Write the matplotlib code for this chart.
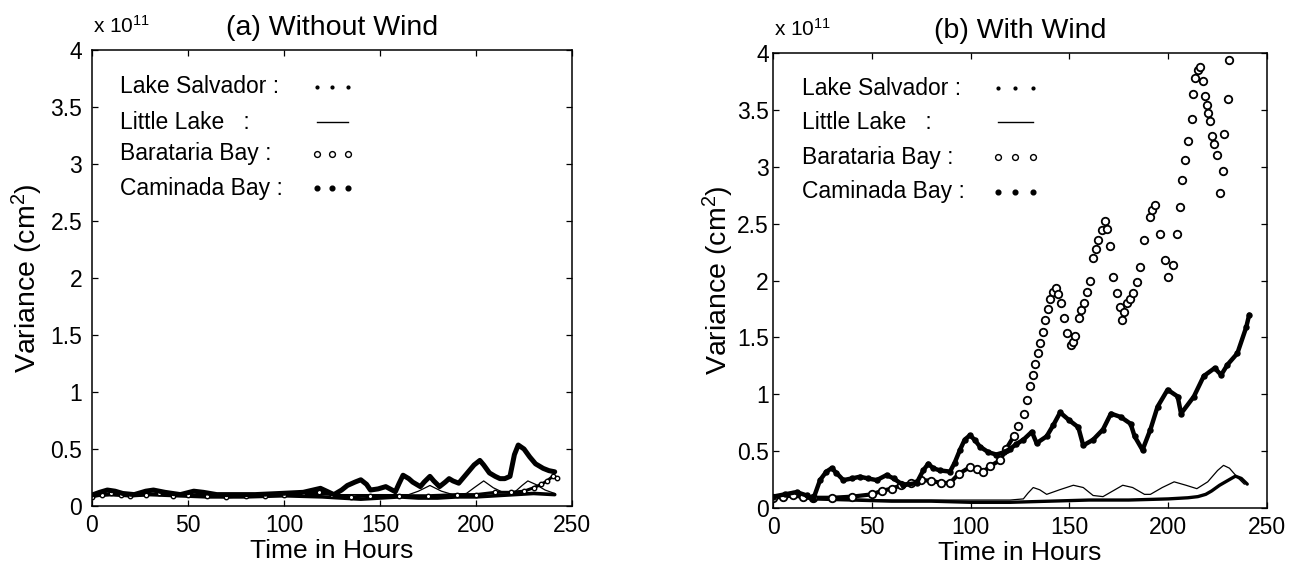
import matplotlib
matplotlib.use("Agg")
import matplotlib.pyplot as plt
from matplotlib.ticker import FuncFormatter
import numpy as np

plt.rcParams['font.family'] = ['Liberation Sans', 'DejaVu Sans']
plt.rcParams['mathtext.fontset'] = 'custom'
plt.rcParams['mathtext.rm'] = 'Liberation Sans'
plt.rcParams['mathtext.it'] = 'Liberation Sans'

# ---------------- data (units of 1e11 cm^2) ----------------
# (a) Without wind
t_ls_a = [0, 10, 20, 30, 45, 60, 80, 100, 120, 130, 140, 150, 160, 170, 180, 190, 200, 210, 220, 230, 241]
v_ls_a = [0.09, 0.10, 0.09, 0.10, 0.09, 0.08, 0.08, 0.09, 0.08, 0.07, 0.06, 0.07, 0.08, 0.07, 0.07, 0.08, 0.08, 0.09, 0.10, 0.11, 0.10]

t_ll_a = [0, 15, 30, 50, 75, 100, 125, 150, 165, 170, 176, 182, 188, 195, 199, 204, 209, 214, 220, 224, 227, 231, 236, 241]
v_ll_a = [0.10, 0.09, 0.10, 0.09, 0.10, 0.10, 0.10, 0.10, 0.10, 0.13, 0.18, 0.13, 0.10, 0.11, 0.16, 0.22, 0.16, 0.12, 0.12, 0.18, 0.22, 0.19, 0.14, 0.11]

t_bb_a = [0, 5, 10, 15, 20, 28, 35, 42, 50, 60, 70, 80, 90, 100, 110, 118, 125, 135, 145, 160, 175, 190, 200, 210, 218, 225, 230, 234, 237, 240, 242]
v_bb_a = [0.08, 0.10, 0.11, 0.10, 0.09, 0.10, 0.11, 0.09, 0.10, 0.09, 0.08, 0.09, 0.09, 0.10, 0.11, 0.12, 0.10, 0.08, 0.09, 0.09, 0.09, 0.10, 0.10, 0.12, 0.12, 0.13, 0.16, 0.19, 0.22, 0.26, 0.25]

t_cb_a = [0, 4, 8, 12, 16, 22, 28, 32, 38, 46, 53, 58, 65, 72, 85, 98, 110, 119, 126, 130, 133, 137, 140, 143, 145,
          149, 153, 158, 160, 162, 165, 167, 171, 173, 176, 178, 181, 184, 186, 188, 191, 194, 196, 199, 202,
          204, 207, 210, 212.5, 215, 217.7, 220, 222, 225, 228, 231, 235, 238, 241]
v_cb_a = [0.096, 0.12, 0.14, 0.13, 0.11, 0.10, 0.13, 0.14, 0.12, 0.10, 0.13, 0.12, 0.10, 0.10, 0.10, 0.11, 0.12, 0.155, 0.10, 0.14,
          0.18, 0.21, 0.23, 0.19, 0.14, 0.15, 0.17, 0.125, 0.20, 0.27, 0.24, 0.21, 0.17, 0.21, 0.26, 0.22, 0.17, 0.21, 0.24, 0.22,
          0.20, 0.26, 0.30, 0.36, 0.40, 0.36, 0.29, 0.26, 0.24, 0.24, 0.26, 0.45, 0.535, 0.50, 0.43, 0.37, 0.33, 0.31, 0.30]

# (b) With wind
t_ls_b = [0, 10, 20, 40, 60, 80, 100, 120, 140, 160, 180, 200, 210, 215, 219, 222, 226, 230, 234, 237, 240]
v_ls_b = [0.10, 0.11, 0.08, 0.07, 0.06, 0.06, 0.05, 0.05, 0.06, 0.07, 0.07, 0.08, 0.09, 0.10, 0.12, 0.15, 0.20, 0.24, 0.28, 0.26, 0.21]

t_ll_b = [0, 10, 20, 40, 60, 80, 100, 120, 126.7, 129, 131.7, 135, 138.5, 145, 152, 157, 162, 167, 172, 177,
          182, 188, 191, 197, 203, 209, 214.5, 220, 225, 228, 231, 235, 238.5]
v_ll_b = [0.10, 0.11, 0.08, 0.08, 0.07, 0.07, 0.07, 0.07, 0.08, 0.13, 0.18, 0.16, 0.12, 0.16, 0.20, 0.18, 0.11, 0.10, 0.15, 0.20,
          0.18, 0.12, 0.12, 0.18, 0.23, 0.20, 0.17, 0.23, 0.33, 0.375, 0.35, 0.27, 0.21]

t_bb_b = [0, 5, 10, 15, 20, 30, 40, 50, 55, 60, 65, 70, 75, 80, 85, 89.6, 94, 99.7, 103, 106.5,
          110, 115, 118, 121.8, 124, 126.8, 128.5, 130.2, 131.5, 132.7, 134, 135.3, 136.5, 137.8, 139,
          140.4, 141.7, 143, 144.3, 145.5, 147.2, 148.9, 150.6, 151.8, 153, 154.7, 156, 157.2, 158.9, 160.4,
          162.1, 163.3, 164.6, 166.3, 168, 169.2, 170.5, 172.2, 173.9, 175.6, 176.5, 177.8, 179, 180.7, 182.4,
          184.3, 185.7, 188, 190.8, 192, 193.3, 195.8, 198.4, 200, 202.6, 204.3, 206, 206.8, 208.5, 210.2,
          211.9, 212.7, 213.6, 215, 216, 217.5, 218.6, 219.5, 220.3, 221.2, 222, 223.2, 224.5, 226.4, 227.5,
          228.4, 230.1, 231]
v_bb_b = [0.09, 0.10, 0.11, 0.10, 0.09, 0.09, 0.10, 0.12, 0.15, 0.17, 0.20, 0.22, 0.245, 0.24, 0.22, 0.22, 0.30, 0.36, 0.34, 0.32,
          0.37, 0.42, 0.52, 0.63, 0.72, 0.83, 0.95, 1.07, 1.17, 1.27, 1.36, 1.45, 1.55, 1.65, 1.75,
          1.84, 1.90, 1.93, 1.88, 1.80, 1.67, 1.54, 1.43, 1.46, 1.51, 1.67, 1.74, 1.80, 1.90, 2.00,
          2.20, 2.28, 2.36, 2.44, 2.52, 2.45, 2.30, 2.03, 1.89, 1.77, 1.65, 1.72, 1.80, 1.84, 1.89,
          1.99, 2.12, 2.36, 2.56, 2.62, 2.66, 2.41, 2.18, 2.03, 2.14, 2.41, 2.65, 2.88, 3.06, 3.23,
          3.42, 3.64, 3.78, 3.85, 3.88, 3.75, 3.62, 3.54, 3.47, 3.40, 3.27, 3.20, 3.10, 2.77, 2.96,
          3.29, 3.60, 3.94]

t_cb_b = [0, 6, 12, 17, 20.4, 23.8, 27, 29.7, 32, 35.6, 40, 44, 48, 52.5, 57.5, 61, 66, 72.7, 76, 78.6,
          81, 84.5, 89.6, 92, 94.6, 97, 99.7, 102, 104.7, 109, 113, 117, 120, 123, 126.7, 131, 133.4, 138.5, 141.9, 145.3,
          150, 154.5, 157, 162, 167, 171, 176, 181, 183, 187, 191, 194.6, 199.7, 204.8, 206.5, 213, 218, 223.5, 226.8, 230,
          235, 239.5, 241]
v_cb_b = [0.10, 0.12, 0.14, 0.11, 0.08, 0.245, 0.32, 0.35, 0.31, 0.245, 0.26, 0.275, 0.26, 0.245, 0.29, 0.26, 0.20, 0.22, 0.33, 0.39,
          0.35, 0.33, 0.32, 0.40, 0.51, 0.60, 0.64, 0.60, 0.54, 0.49, 0.47, 0.49, 0.52, 0.56, 0.60, 0.67, 0.57, 0.63, 0.73, 0.84,
          0.77, 0.71, 0.55, 0.60, 0.69, 0.83, 0.80, 0.74, 0.63, 0.51, 0.69, 0.89, 1.04, 0.98, 0.83, 0.98, 1.16, 1.23, 1.17, 1.26,
          1.36, 1.59, 1.70]

legend_labels = ["Lake Salvador :", "Little Lake   :", "Barataria Bay :", "Caminada Bay :"]
titles = ["(a) Without Wind", "(b) With Wind"]
x_ticks = [0, 50, 100, 150, 200, 250]
y_ticks = [0, 0.5, 1, 1.5, 2, 2.5, 3, 3.5, 4]

# ---------------- figure ----------------
W, H = 1301, 576
fig = plt.figure(figsize=(W / 100, H / 100), dpi=100)
ax1 = fig.add_axes([92 / W, 70 / H, 480 / W, 456 / H])
ax2 = fig.add_axes([773 / W, 68 / H, 494 / W, 455 / H])

K = 'black'

# panel (a)
ax1.plot(t_ls_a, v_ls_a, color=K, lw=2.6, solid_capstyle='round')
ax1.plot(t_ll_a, v_ll_a, color=K, lw=0.9)
ax1.plot(t_bb_a, v_bb_a, color=K, lw=2.2)
ax1.plot(t_bb_a, v_bb_a, 'o', ms=3.2, mfc='white', mec=K, mew=1.0)
ax1.plot(t_cb_a, v_cb_a, color=K, lw=3.6, solid_capstyle='round', solid_joinstyle='round')

# panel (b)
tb = np.array(t_bb_b)
vb = np.array(v_bb_b)
low = tb <= 121.8
ax2.plot(t_ls_b, v_ls_b, color=K, lw=2.4, solid_capstyle='round')
ax2.plot(t_ll_b, v_ll_b, color=K, lw=0.9)
ax2.plot(tb[low], vb[low], color=K, lw=3.0)
ax2.plot(tb, vb, 'o', ms=5.4, mfc='white', mec=K, mew=1.3)
ax2.plot(t_cb_b, v_cb_b, color=K, lw=3.2, solid_capstyle='round', solid_joinstyle='round')
ax2.plot(t_cb_b, v_cb_b, 'o', ms=3.6, color=K)

fmt = FuncFormatter(lambda v, p: '%g' % v)
for ax, title, ypad, sym_x, leg_y in [
        (ax1, titles[0], 7, (0.469, 0.533), (0.919, 0.842, 0.772, 0.697)),
        (ax2, titles[1], 3, (0.455, 0.526), (0.923, 0.848, 0.771, 0.695))]:
    ax.set_xlim(0, 250)
    ax.set_ylim(0, 4)
    ax.set_xticks(x_ticks)
    ax.set_yticks(y_ticks)
    ax.xaxis.set_major_formatter(fmt)
    ax.yaxis.set_major_formatter(fmt)
    ax.tick_params(direction='in', length=4, width=0.9, top=True, right=True, labelsize=16.5)
    ax.tick_params(axis='y', pad=ypad)
    ax.tick_params(axis='x', pad=6)
    for s in ax.spines.values():
        s.set_linewidth(1.1)
    ax.set_title(title, fontsize=20.5, pad=11)
    ax.set_xlabel('Time in Hours', fontsize=19, labelpad=1)
    ax.set_ylabel(r'Variance (cm$^2$)', fontsize=20.5, labelpad=4 if ax is ax1 else 1)
    ax.text(0.003, 1.037, r'x 10$^{11}$', transform=ax.transAxes, fontsize=15, ha='left', va='baseline')

    # legend block
    for lab, yy in zip(legend_labels, leg_y):
        ax.text(0.058, yy, lab, transform=ax.transAxes, fontsize=16.5, ha='left', va='center')
    xs = [sym_x[0], (sym_x[0] + sym_x[1]) / 2, sym_x[1]]
    ax.plot(xs, [leg_y[0]] * 3, 'o', ms=2.0, color=K, transform=ax.transAxes, clip_on=False)
    ax.plot([sym_x[0], sym_x[1]], [leg_y[1]] * 2, '-', lw=1.0, color=K, transform=ax.transAxes)
    ax.plot(xs, [leg_y[2]] * 3, 'o', ms=4.2, mfc='white', mec=K, mew=1.0, transform=ax.transAxes)
    ax.plot(xs, [leg_y[3]] * 3, 'o', ms=3.4, color=K, transform=ax.transAxes)

fig.savefig('out.png', dpi=100, facecolor='white')
